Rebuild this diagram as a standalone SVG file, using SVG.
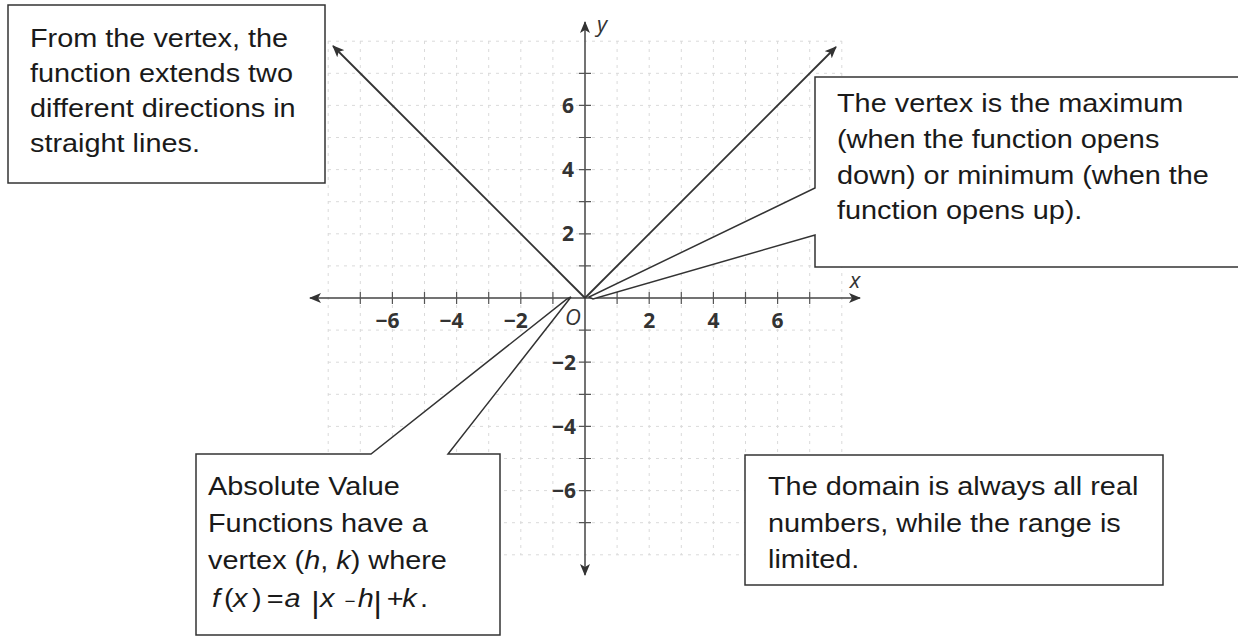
<svg xmlns="http://www.w3.org/2000/svg" width="1238" height="637" viewBox="0 0 1238 637">
<style>
.grid{stroke:#dadada;stroke-width:1;stroke-dasharray:3 5;fill:none}
.axis{stroke:#444;stroke-width:1.5;fill:none}
.tick{stroke:#555;stroke-width:1.2;fill:none}
.ray{stroke:#333;stroke-width:1.8;fill:none}
.box{stroke:#333;stroke-width:1.5;fill:#fff}
.t{font-family:"Liberation Sans",Arial,sans-serif;font-size:26px;fill:#1a1a1a}
.num{font-family:"Open Sans","Noto Sans",sans-serif;font-weight:700;font-size:21px;fill:#333}
.var{font-family:"Open Sans","Noto Sans",sans-serif;font-style:italic;font-size:22px;fill:#333}
.i{font-style:italic}
</style>
<defs>
<marker id="ah" viewBox="0 0 12 10" refX="11" refY="5" markerWidth="12" markerHeight="10" markerUnits="userSpaceOnUse" orient="auto-start-reverse">
<path d="M0,0 L12,5 L0,10 L3,5 z" fill="#333"/>
</marker>
</defs>
<g id="grid">
<path class="grid" d="M328.2,41V555M360.3,41V555M392.4,41V555M424.5,41V555M456.6,41V555M488.7,41V555M520.8,41V555M552.9,41V555M617.1,41V555M649.2,41V555M681.3,41V555M713.4,41V555M745.5,41V555M777.6,41V555M809.7,41V555M841.8,41V555"/>
<path class="grid" d="M328,41.2H842M328,73.3H842M328,105.4H842M328,137.5H842M328,169.6H842M328,201.7H842M328,233.8H842M328,265.9H842M328,330.1H842M328,362.2H842M328,394.3H842M328,426.4H842M328,458.5H842M328,490.6H842M328,522.7H842M328,554.8H842"/>
</g>
<g id="axes">
<line class="axis" x1="310" y1="298" x2="860" y2="298" marker-start="url(#ah)" marker-end="url(#ah)"/>
<line class="axis" x1="585" y1="22" x2="585" y2="575" marker-start="url(#ah)" marker-end="url(#ah)"/>
<path class="tick" d="M360.3,292V304M392.4,292V304M424.5,292V304M456.6,292V304M488.7,292V304M520.8,292V304M552.9,292V304M617.1,292V304M649.2,292V304M681.3,292V304M713.4,292V304M745.5,292V304M777.6,292V304M809.7,292V304"/>
<path class="tick" d="M579,73.3H591M579,105.4H591M579,137.5H591M579,169.6H591M579,201.7H591M579,233.8H591M579,265.9H591M579,330.1H591M579,362.2H591M579,394.3H591M579,426.4H591M579,458.5H591M579,490.6H591M579,522.7H591"/>
<text class="num" x="399.4" y="328" text-anchor="end">−6</text>
<text class="num" x="463.6" y="328" text-anchor="end">−4</text>
<text class="num" x="527.8" y="328" text-anchor="end">−2</text>
<text class="num" x="649.2" y="328" text-anchor="middle">2</text>
<text class="num" x="713.4" y="328" text-anchor="middle">4</text>
<text class="num" x="777.6" y="328" text-anchor="middle">6</text>
<text class="num" x="574" y="113" text-anchor="end">6</text>
<text class="num" x="574" y="177" text-anchor="end">4</text>
<text class="num" x="574" y="241" text-anchor="end">2</text>
<text class="num" x="576" y="370" text-anchor="end">−2</text>
<text class="num" x="576" y="434" text-anchor="end">−4</text>
<text class="num" x="576" y="498" text-anchor="end">−6</text>
<text class="var" x="573" y="325" text-anchor="middle">O</text>
<text class="var" x="855" y="288" text-anchor="middle">x</text>
<text class="var" x="597" y="32">y</text>
</g>
<g id="connectors">
<line class="ray" x1="585" y1="298" x2="333" y2="46" marker-end="url(#ah)"/>
<line class="ray" x1="585" y1="298" x2="836" y2="47" marker-end="url(#ah)"/>
</g>
<g id="box-directions">
<rect class="box" x="8" y="5" width="317" height="178"/>
<text class="t" transform="translate(30,47) scale(1.11,1)"><tspan x="0" y="0">From the vertex, the</tspan><tspan x="0" y="35">function extends two</tspan><tspan x="0" y="70">different directions in</tspan><tspan x="0" y="105">straight lines.</tspan></text>
</g>
<g id="box-vertex">
<path class="box" d="M815,77H1241V267H815V235L593,299L589,297L815,188Z"/>
<text class="t" transform="translate(837,112) scale(1.11,1)"><tspan x="0" y="0">The vertex is the maximum</tspan><tspan x="0" y="36">(when the function opens</tspan><tspan x="0" y="72">down) or minimum (when the</tspan><tspan x="0" y="107">function opens up).</tspan></text>
</g>
<g id="box-absolute">
<path class="box" d="M196,454H371L567,299L571,297L448,454H500V635H196Z"/>
<text class="t" transform="translate(208,495) scale(1.11,1)"><tspan x="0" y="0">Absolute Value</tspan><tspan x="0" y="37">Functions have a</tspan><tspan x="0" y="74">vertex (<tspan class="i">h</tspan>, <tspan class="i">k</tspan>) where</tspan></text>
<text class="t" transform="translate(208,607) scale(1.11,1)"><tspan x="3.6" y="0" class="i">f</tspan><tspan x="14.4">(</tspan><tspan x="22.5" class="i">x</tspan><tspan x="39.6">)</tspan><tspan x="53">=</tspan><tspan x="69" class="i">a</tspan><tspan x="93" y="6" font-size="29">|</tspan><tspan x="101" y="0" class="i">x</tspan><tspan x="123" font-size="17">−</tspan><tspan x="135" class="i">h</tspan><tspan x="149" y="6" font-size="29">|</tspan><tspan x="161" y="0">+</tspan><tspan x="175" class="i">k</tspan><tspan x="191">.</tspan></text>
</g>
<g id="box-domain">
<rect class="box" x="745" y="455" width="418" height="130"/>
<text class="t" transform="translate(768,495) scale(1.11,1)"><tspan x="0" y="0">The domain is always all real</tspan><tspan x="0" y="37">numbers, while the range is</tspan><tspan x="0" y="73">limited.</tspan></text>
</g>
</svg>
